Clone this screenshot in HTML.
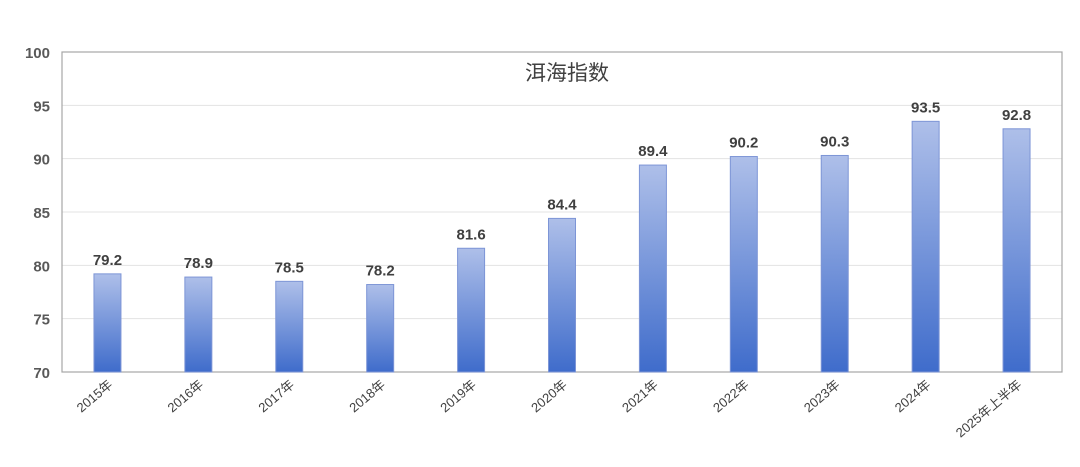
<!DOCTYPE html>
<html><head><meta charset="utf-8"><style>
html,body{margin:0;padding:0;background:#fff;}
svg{display:block;font-family:"Liberation Sans","Noto Sans CJK SC",sans-serif;}
</style></head><body>
<svg id="chart" width="1080" height="467" viewBox="0 0 1080 467">
<defs><linearGradient id="g" x1="0" y1="0" x2="0" y2="1"><stop offset="0" stop-color="#aebfe9"/><stop offset="1" stop-color="#3f6ccb"/></linearGradient></defs>
<rect x="0" y="0" width="1080" height="467" fill="#fff"/>
<g id="grid"></g>
<rect x="62" y="52" width="1000" height="320" fill="none" stroke="#a6a6a6" stroke-width="1.2"/>
<text x="567" y="80" text-anchor="middle" font-size="21" fill="#404040">洱海指数</text>
<g id="bars"></g>
</svg>
<script>
const categories=["2015年","2016年","2017年","2018年","2019年","2020年","2021年","2022年","2023年","2024年","2025年上半年"];
const values=[79.2,78.9,78.5,78.2,81.6,84.4,89.4,90.2,90.3,93.5,92.8];
const yTicks=[70,75,80,85,90,95,100];
const NS="http://www.w3.org/2000/svg";
const L=62,R=1062,T=52,B=372,yMin=70,yMax=100;
function y(v){return B-(v-yMin)/(yMax-yMin)*(B-T);}
function x(i){return L+(i+0.5)*(R-L)/categories.length;}
function mk(t,a,p){const e=document.createElementNS(NS,t);for(const k in a)e.setAttribute(k,a[k]);p.appendChild(e);return e;}
const grid=document.getElementById('grid'),bars=document.getElementById('bars');
yTicks.forEach(v=>{
  const l=mk('line',{x1:L,x2:R,y1:y(v),y2:y(v),stroke:'#e3e3e3','stroke-width':1},grid);
  
  
  const t=mk('text',{x:50,y:y(v)+6,'text-anchor':'end','font-size':15,'font-weight':'bold',fill:'#595959'},grid);
  t.textContent=v;
  
  
});
const bw=27;
values.forEach((v,i)=>{
  const cx=x(i);
  const r=mk('rect',{x:cx-bw/2,y:y(v),width:bw,height:B-y(v),fill:'url(#g)',stroke:'#7d95d6','stroke-width':1},bars);
  
  
  const t=mk('text',{x:cx,y:y(v)-9,'text-anchor':'middle','font-size':15,'font-weight':'bold',fill:'#404040'},bars);
  t.textContent=v.toFixed(1);
  
  
  const c=mk('text',{x:cx+6,y:386,'text-anchor':'end','font-size':13,fill:'#404040',transform:`rotate(-40 ${cx+6} 386)`},bars);
  c.textContent=categories[i];
  
  
});
</script>
</body></html>
